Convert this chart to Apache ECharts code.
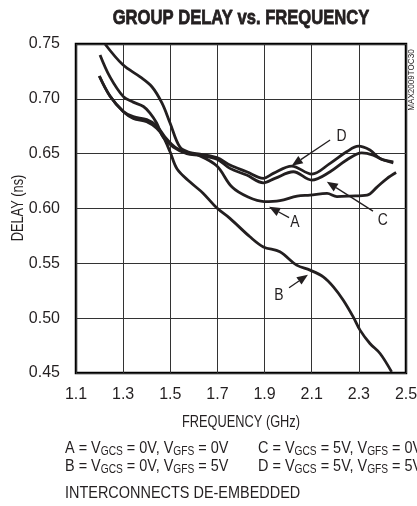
<!DOCTYPE html>
<html>
<head>
<meta charset="utf-8">
<script src="https://cdn.jsdelivr.net/npm/echarts@6/dist/echarts.min.js"></script>
<style>
  html, body { margin: 0; padding: 0; background: #fff; }
  #chart { width: 417px; height: 506px; }
</style>
</head>
<body>
<div id="chart"></div>
<script>
// Group delay (ns) against frequency (GHz) for four gain-control settings.
const xTicks = [1.1, 1.3, 1.5, 1.7, 1.9, 2.1, 2.3, 2.5];
const yTicks = [0.45, 0.50, 0.55, 0.60, 0.65, 0.70, 0.75];

// A: VGCS = 0V, VGFS = 0V
const freqA = [1.199, 1.244, 1.301, 1.343, 1.400, 1.442, 1.478, 1.520, 1.571, 1.626, 1.698, 1.762, 1.830, 1.898, 1.965, 2.038, 2.093, 2.165, 2.207, 2.262, 2.335, 2.377, 2.419, 2.458];
const delayA = [0.7208, 0.7026, 0.6885, 0.6838, 0.6810, 0.6755, 0.6651, 0.6560, 0.6510, 0.6480, 0.6387, 0.6195, 0.6104, 0.6063, 0.6072, 0.6113, 0.6122, 0.6138, 0.6109, 0.6113, 0.6122, 0.6195, 0.6273, 0.6328];

// B: VGCS = 0V, VGFS = 5V
const freqB = [1.199, 1.244, 1.301, 1.343, 1.400, 1.442, 1.470, 1.499, 1.529, 1.584, 1.639, 1.698, 1.753, 1.838, 1.895, 1.965, 2.036, 2.093, 2.149, 2.192, 2.234, 2.276, 2.305, 2.347, 2.390, 2.439];
const delayB = [0.7208, 0.7026, 0.6882, 0.6822, 0.6791, 0.6731, 0.6654, 0.6517, 0.6360, 0.6241, 0.6140, 0.6004, 0.5910, 0.5742, 0.5650, 0.5605, 0.5484, 0.5438, 0.5377, 0.5286, 0.5164, 0.5012, 0.4891, 0.4769, 0.4678, 0.4510];

// C: VGCS = 5V, VGFS = 0V
const freqC = [1.202, 1.244, 1.301, 1.343, 1.386, 1.414, 1.442, 1.470, 1.513, 1.570, 1.626, 1.698, 1.753, 1.824, 1.895, 1.944, 2.022, 2.100, 2.178, 2.248, 2.312, 2.361, 2.404, 2.446];
const delayC = [0.7400, 0.7200, 0.7020, 0.6970, 0.6930, 0.6870, 0.6780, 0.6650, 0.6560, 0.6500, 0.6485, 0.6450, 0.6366, 0.6305, 0.6234, 0.6275, 0.6335, 0.6259, 0.6335, 0.6442, 0.6508, 0.6487, 0.6442, 0.6417];

// D: VGCS = 5V, VGFS = 5V
const freqD = [1.223, 1.299, 1.372, 1.422, 1.465, 1.499, 1.541, 1.584, 1.626, 1.698, 1.753, 1.824, 1.895, 1.937, 2.015, 2.100, 2.178, 2.248, 2.298, 2.347, 2.390, 2.446];
const delayD = [0.7500, 0.7310, 0.7200, 0.7110, 0.6960, 0.6780, 0.6560, 0.6510, 0.6495, 0.6464, 0.6396, 0.6335, 0.6275, 0.6320, 0.6387, 0.6314, 0.6412, 0.6517, 0.6569, 0.6533, 0.6457, 0.6426];

// Curve callouts: label position, arrow tail and arrow tip, in data units
const callouts = [
  { name: 'D', label: [2.227, 0.666], tail: [2.178, 0.6624], tip: [2.015, 0.6390] },
  { name: 'C', label: [2.402, 0.5894], tail: [2.360, 0.5976], tip: [2.164, 0.6244] },
  { name: 'A', label: [2.029, 0.5876], tail: [2.004, 0.5917], tip: [1.919, 0.6016] },
  { name: 'B', label: [1.961, 0.5210], tail: [2.004, 0.5277], tip: [2.084, 0.5397] }
];

const FONT = '"Liberation Sans", Arial, sans-serif';
const INK = '#231f20';
const NARROW = 0.82;   // horizontal squeeze giving a condensed face

const pairs = (f, d) => f.map((v, i) => [v, d[i]]);

function curve(name, f, d) {
  return {
    name: name,
    type: 'line',
    data: pairs(f, d),
    smooth: 0.35,
    showSymbol: false,
    lineStyle: { color: INK, width: 2.8 },
    z: 5
  };
}

const chart = echarts.init(document.getElementById('chart'), null, { renderer: 'canvas' });

chart.setOption({
  animation: false,
  grid: {
    left: 76, right: 11, top: 44, bottom: 133,
    outerBoundsMode: 'none',
    containLabel: false,
    show: true, borderColor: '#000', borderWidth: 2.5, backgroundColor: 'transparent'
  },
  xAxis: {
    type: 'value',
    min: 1.1, max: 2.5,
    axisLine: { show: false },
    axisTick: { show: false, customValues: xTicks },
    axisLabel: {
      customValues: xTicks,
      formatter: v => v.toFixed(1),
      margin: 14,
      fontFamily: FONT, fontSize: 16, color: INK
    },
    splitLine: { show: true, lineStyle: { color: '#333', width: 1 } }
  },
  yAxis: {
    type: 'value',
    min: 0.45, max: 0.75,
    axisLine: { show: false },
    axisTick: { show: false, customValues: yTicks },
    axisLabel: {
      customValues: yTicks,
      formatter: v => v.toFixed(2),
      margin: 16,
      fontFamily: FONT, fontSize: 16, color: INK
    },
    splitLine: { show: true, lineStyle: { color: '#333', width: 1 } }
  },
  series: [
    curve('A', freqA, delayA),
    curve('B', freqB, delayB),
    curve('C', freqC, delayC),
    curve('D', freqD, delayD)
  ]
});

const graphics = [];

function narrowText(x, y, text, size, opts) {
  opts = opts || {};
  graphics.push({
    type: 'text', x: x, y: y, z: 10,
    rotation: opts.rotation || 0,
    scaleX: opts.scaleX || NARROW,
    style: {
      text: text,
      fontFamily: FONT,
      fontSize: size,
      fontWeight: opts.weight || 'normal',
      fill: INK,
      stroke: opts.stroke ? INK : null,
      lineWidth: opts.stroke || 0,
      align: opts.align || 'center',
      verticalAlign: 'middle',
      rich: opts.rich
    }
  });
}

// Title and axis names
narrowText(241, 18, 'GROUP DELAY vs. FREQUENCY', 21, { weight: 'bold', scaleX: 0.79, stroke: 0.8 });
narrowText(241, 423, 'FREQUENCY (GHz)', 16, { scaleX: 0.8 });
narrowText(19, 208, 'DELAY (ns)', 16, { scaleX: 0.8, rotation: Math.PI / 2 });

// Callout arrows and letters
callouts.forEach(c => {
  const L = chart.convertToPixel({ gridIndex: 0 }, c.label);
  const T = chart.convertToPixel({ gridIndex: 0 }, c.tail);
  const P = chart.convertToPixel({ gridIndex: 0 }, c.tip);
  const dx = P[0] - T[0], dy = P[1] - T[1];
  const len = Math.hypot(dx, dy);
  const ux = dx / len, uy = dy / len;
  const headLen = 11, headHalf = 4.5;
  const bx = P[0] - ux * headLen, by = P[1] - uy * headLen;
  graphics.push({
    type: 'line', z: 10,
    shape: { x1: T[0], y1: T[1], x2: bx, y2: by },
    style: { stroke: INK, lineWidth: 1.3 }
  });
  graphics.push({
    type: 'polygon', z: 10,
    shape: { points: [P, [bx - uy * headHalf, by + ux * headHalf], [bx + uy * headHalf, by - ux * headHalf]] },
    style: { fill: INK }
  });
  narrowText(L[0], L[1], c.name, 17);
});

// Caption block under the plot
const rich = {
  m: { fontFamily: FONT, fontSize: 17, color: INK },
  s: { fontFamily: FONT, fontSize: 12, color: INK, padding: [7, 0, 0, 0] }
};
const captionLines = [
  { x: 65, y: 448, text: '{m|A = V}{s|GCS}{m| = 0V, V}{s|GFS}{m| = 0V}' },
  { x: 258, y: 448, text: '{m|C = V}{s|GCS}{m| = 5V, V}{s|GFS}{m| = 0V}' },
  { x: 65, y: 466, text: '{m|B = V}{s|GCS}{m| = 0V, V}{s|GFS}{m| = 5V}' },
  { x: 258, y: 466, text: '{m|D = V}{s|GCS}{m| = 5V, V}{s|GFS}{m| = 5V}' },
  { x: 65, y: 493, text: '{m|INTERCONNECTS DE-EMBEDDED}' }
];
captionLines.forEach(c => {
  narrowText(c.x, c.y, c.text, 17, { align: 'left', rich: rich, scaleX: 0.85 });
});

// Figure code along the right edge
narrowText(411, 80, 'MAX2009TOC30', 9.5, { rotation: Math.PI / 2, scaleX: 0.85 });

chart.setOption({ graphic: graphics });
</script>
</body>
</html>
